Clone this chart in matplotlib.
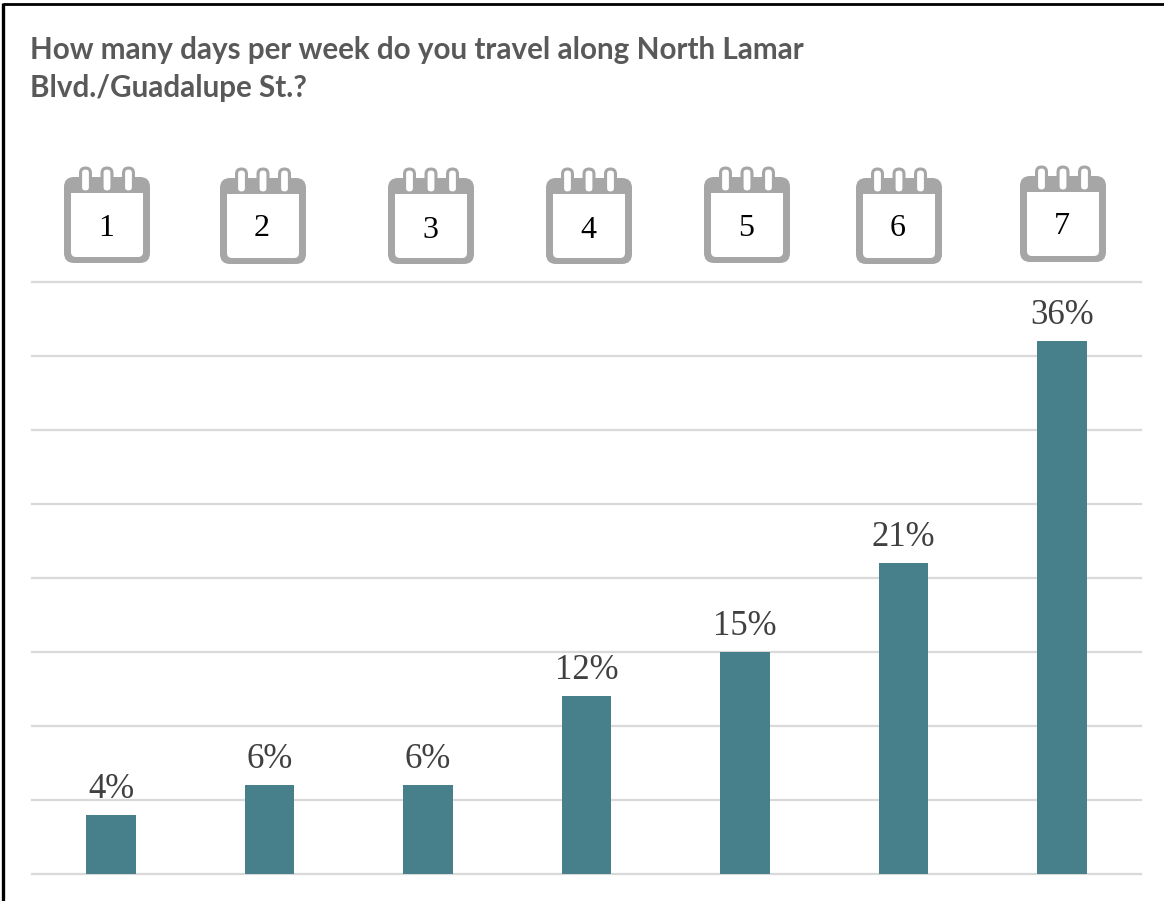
import matplotlib
matplotlib.use("Agg")
import matplotlib.pyplot as plt
from matplotlib.patches import FancyBboxPatch, Rectangle

days = ["1", "2", "3", "4", "5", "6", "7"]
shares = [4, 6, 6, 12, 15, 21, 36]
title = "How many days per week do you travel along North Lamar\nBlvd./Guadalupe St.?"

# calendar icon centres and tops, in picture pixels
icon_x = [107, 263, 431, 589, 747, 899, 1063]
icon_top = [166, 167, 167, 167, 166, 167, 165]
label_y = [229, 229, 230, 231, 229, 229, 226]

W, H = 1164, 901
teal = "#47808A"
grey = "#A6A6A6"
serif = "Liberation Serif"

fig = plt.figure(figsize=(W / 100, H / 100), dpi=100)

# main chart, bars run on the category positions
ax = fig.add_axes([32 / W, 1 - 874 / H, (1141 - 32) / W, (874 - 282) / H])
ax.bar(range(len(days)), shares, width=0.313, color=teal, zorder=3)
ax.set_xlim(-0.5, 6.5)
ax.set_ylim(0, 40)
ax.set_yticks(range(0, 45, 5))
ax.grid(True, axis="y", color="#D9D9D9", linewidth=1.6, clip_on=False)
ax.set_axisbelow(True)
ax.tick_params(left=False, bottom=False, labelleft=False, labelbottom=False)
for s in ax.spines.values():
    s.set_visible(False)
for i, v in enumerate(shares):
    ax.annotate(f"{v}%", (i, v), xytext=(0, 6.6), textcoords="offset points",
                ha="center", va="bottom", fontsize=25, color="#404040",
                family=serif, zorder=4, annotation_clip=False,
                )

# overlay in pixel coordinates for title, frame and icons
ov = fig.add_axes([0, 0, 1, 1], facecolor="none")
ov.set_xlim(0, W)
ov.set_ylim(H, 0)
ov.axis("off")

ov.plot([3, 3], [3, H], color="black", linewidth=2.4, solid_capstyle="butt")
ov.plot([3, W], [3.5, 3.5], color="black", linewidth=2.0, solid_capstyle="butt")

ov.text(30, 69, title, fontsize=21.3, fontweight="bold", color="#595959",
        family="Lato", va="center", ha="left", linespacing=1.45)


def calendar(cx, top, num, num_y):
    left = cx - 43
    body_top = top + 11
    ov.add_patch(FancyBboxPatch((left + 8, body_top + 8), 70, 70,
                                boxstyle="round,pad=8,rounding_size=10",
                                fc=grey, ec="none"))
    ov.add_patch(FancyBboxPatch((left + 10, top + 30), 66, 58,
                                boxstyle="round,pad=3,rounding_size=5",
                                fc="white", ec="none"))
    ov.add_patch(Rectangle((left + 7, top + 27), 72, 30, fc="white", ec="none"))
    for dx in (-21.5, 0, 21.5):
        # ring cap sticking out of the header, with its slot running down
        ov.add_patch(FancyBboxPatch((cx + dx - 1, top + 6), 2, 14,
                                    boxstyle="round,pad=5.5,rounding_size=6.5",
                                    fc=grey, ec="none"))
        ov.add_patch(FancyBboxPatch((cx + dx - 1, top + 6), 2, 16,
                                    boxstyle="round,pad=2.4,rounding_size=3.2",
                                    fc="white", ec="none"))
    ov.text(cx - 1, num_y, num, fontsize=23, family=serif, color="black",
            ha="center", va="center")


for cx, top, num, ny in zip(icon_x, icon_top, days, label_y):
    calendar(cx, top, num, ny)

fig.savefig("out.png", dpi=100)
